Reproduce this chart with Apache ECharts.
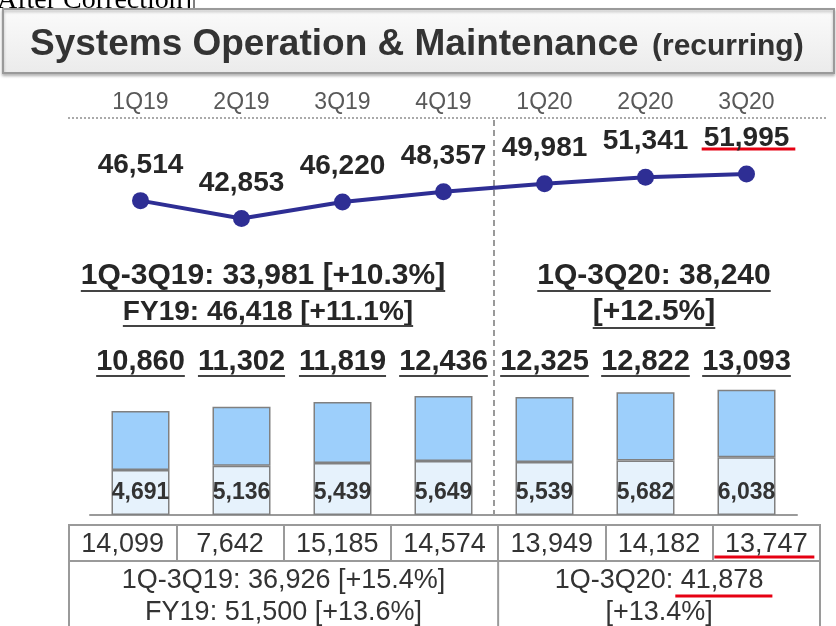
<!DOCTYPE html>
<html>
<head>
<meta charset="utf-8">
<script src="https://cdn.jsdelivr.net/npm/echarts@6/dist/echarts.min.js"></script>
<style>
  html, body { margin: 0; padding: 0; background: #fff; }
  #main { width: 836px; height: 626px; }
</style>
</head>
<body>
<div id="main"></div>
<script>
// quarters
const categories = ['1Q19', '2Q19', '3Q19', '4Q19', '1Q20', '2Q20', '3Q20'];
// line: recurring revenue per quarter
const lineValues = [46514, 42853, 46220, 48357, 49981, 51341, 51995];
// bars: total and lower segment
const barTotals = [10860, 11302, 11819, 12436, 12325, 12822, 13093];
const barLower = [4691, 5136, 5439, 5649, 5539, 5682, 6038];
// table row
const tableValues = [14099, 7642, 15185, 14574, 13949, 14182, 13747];
// summary texts
const summary19 = ['1Q-3Q19: 33,981 [+10.3%]', 'FY19: 46,418 [+11.1%]'];
const summary20 = ['1Q-3Q20: 38,240', '[+12.5%]'];
const table19 = ['1Q-3Q19: 36,926 [+15.4%]', 'FY19: 51,500 [+13.6%]'];
const table20 = ['1Q-3Q20: 41,878', '[+13.4%]'];

const FONT = '"Liberation Sans", Arial, sans-serif';
const fmt = v => v.toLocaleString('en-US');
const barUpper = barTotals.map((t, i) => t - barLower[i]);

const ctx = document.createElement('canvas').getContext('2d');
function textWidth(t, font) { ctx.font = font; return ctx.measureText(t).width; }

const chart = echarts.init(document.getElementById('main'));

// grids: line, bars, table row
const G = {
    line: {left: 90, width: 707, top: 135, height: 146},
    bar: {left: 90, width: 707, top: 381, height: 134},
    table: {left: 69, width: 751, top: 525, height: 36}
};

chart.setOption({
    animation: false,
    backgroundColor: '#fff',
    grid: [
        G.line,
        G.bar,
        Object.assign({show: true, borderColor: '#9a9a9a', borderWidth: 2, backgroundColor: 'transparent'}, G.table)
    ],
    xAxis: [
        {
            type: 'category', gridIndex: 0, position: 'top', data: categories,
            axisLine: {show: false}, axisTick: {show: false},
            axisLabel: {color: '#595959', fontFamily: FONT, fontSize: 23, margin: 21}
        },
        {
            type: 'category', gridIndex: 1, data: categories,
            axisLine: {lineStyle: {color: '#9a9a9a', width: 2}}, axisTick: {show: false},
            axisLabel: {show: false}
        },
        {
            type: 'category', gridIndex: 1, position: 'top', data: barTotals.map(fmt),
            axisLine: {show: false}, axisTick: {show: false},
            axisLabel: {color: '#262626', fontFamily: FONT, fontSize: 29, fontWeight: 'bold', margin: 5, interval: 0}
        },
        {
            type: 'category', gridIndex: 2, data: tableValues.map(fmt),
            axisLine: {show: false}, axisTick: {show: false},
            axisLabel: {inside: true, color: '#333', fontFamily: FONT, fontSize: 27, margin: 3, interval: 0},
            splitLine: {show: true, interval: 0, lineStyle: {color: '#9a9a9a', width: 2}}
        }
    ],
    yAxis: [
        {type: 'value', gridIndex: 0, min: 30000, max: 60000, show: false},
        {type: 'value', gridIndex: 1, min: 0, max: 14000, show: false},
        {type: 'value', gridIndex: 2, show: false}
    ],
    series: [
        {
            type: 'line', xAxisIndex: 0, yAxisIndex: 0, data: lineValues,
            symbol: 'circle', symbolSize: 17,
            lineStyle: {color: '#2e2e94', width: 4},
            itemStyle: {color: '#2e2e94'},
            label: {
                show: true, position: 'top', distance: 13,
                formatter: p => fmt(p.value),
                color: '#262626', fontFamily: FONT, fontSize: 28, fontWeight: 'bold'
            }
        },
        {
            type: 'bar', xAxisIndex: 1, yAxisIndex: 1, stack: 'total', data: barLower, barWidth: 58,
            itemStyle: {color: '#e6f2fc', borderColor: '#808080', borderWidth: 1.5},
            label: {
                show: true, position: 'insideBottom', distance: 11,
                formatter: p => fmt(p.value),
                color: '#333', fontFamily: FONT, fontSize: 23, fontWeight: 'bold'
            }
        },
        {
            type: 'bar', xAxisIndex: 1, yAxisIndex: 1, stack: 'total', data: barUpper, barWidth: 58,
            itemStyle: {color: '#9dcffb', borderColor: '#808080', borderWidth: 1.5}
        }
    ]
});

// annotations: title, summaries, underlines, table lower row
const gfx = [];
function text(x, y, t, font, color, align) {
    gfx.push({type: 'text', x: x, y: y, style: {text: t, font: font, fill: color, align: align || 'center', verticalAlign: 'middle'}});
}
function hline(x1, x2, y, color, w) {
    gfx.push({type: 'line', shape: {x1: x1, y1: y, x2: x2, y2: y}, style: {stroke: color, lineWidth: w}});
}
function underlined(cx, y, t, font, color, uy) {
    text(cx, y, t, font, color);
    const w = textWidth(t, font);
    hline(cx - w / 2, cx + w / 2, uy, '#444', 2);
}

// top cropped caption
gfx.push({type: 'text', x: -3, y: 15, style: {text: 'After Correction]', font: '28px "Liberation Serif", serif', fill: '#000', align: 'left', verticalAlign: 'bottom'}});
gfx.push({type: 'line', shape: {x1: 194, y1: 0, x2: 194, y2: 9}, style: {stroke: '#000', lineWidth: 1}});

// title box
gfx.push({
    type: 'rect', shape: {x: 3, y: 9, width: 831, height: 64},
    style: {
        fill: new echarts.graphic.LinearGradient(0, 0, 0, 1, [{offset: 0, color: '#fbfbfb'}, {offset: 1, color: '#ebebeb'}]),
        stroke: '#9a9a9a', lineWidth: 2, shadowBlur: 3, shadowColor: 'rgba(0,0,0,0.25)', shadowOffsetY: 2
    }
});
text(30, 45, 'Systems Operation & Maintenance', 'bold 37px ' + FONT, '#333', 'left');
text(652, 47, '(recurring)', 'bold 30px ' + FONT, '#333', 'left');

// dotted line under quarter labels
gfx.push({type: 'line', shape: {x1: 68, y1: 118, x2: 826, y2: 118}, style: {stroke: '#aaa', lineWidth: 2, lineDash: [2, 2]}});

// dashed separator between FY19 and FY20
const step = G.line.width / categories.length;
const sepX = G.line.left + step * 4;
gfx.push({type: 'line', shape: {x1: sepX, y1: 120, x2: sepX, y2: 515}, style: {stroke: '#999', lineWidth: 2, lineDash: [6, 4]}});

// summaries
const bold30 = 'bold 30px ' + FONT;
const bold28 = 'bold 28px ' + FONT;
underlined(263, 276, summary19[0], bold30, '#262626', 291);
underlined(268, 312, summary19[1], bold28, '#262626', 326);
underlined(654, 276, summary20[0], bold30, '#262626', 291);
underlined(654, 312, summary20[1], bold30, '#262626', 328);

// underline bar totals
const totalFont = 'bold 29px ' + FONT;
barTotals.forEach((v, i) => {
    const cx = G.bar.left + step * (i + 0.5);
    const w = textWidth(fmt(v), totalFont);
    hline(cx - w / 2, cx + w / 2, 376, '#444', 2);
});

// table lower row
const tLeft = G.table.left, tRight = G.table.left + G.table.width, tTop = G.table.top + G.table.height;
const cell = G.table.width / tableValues.length;
const tDiv = tLeft + cell * 4;
gfx.push({type: 'rect', shape: {x: tLeft, y: tTop, width: G.table.width, height: 120}, style: {fill: 'none', stroke: '#9a9a9a', lineWidth: 2}});
gfx.push({type: 'line', shape: {x1: tDiv, y1: tTop, x2: tDiv, y2: 700}, style: {stroke: '#9a9a9a', lineWidth: 2}});
const reg27 = '27px ' + FONT;
text((tLeft + tDiv) / 2, 581, table19[0], reg27, '#333');
text((tLeft + tDiv) / 2, 613, table19[1], reg27, '#333');
text((tDiv + tRight) / 2, 581, table20[0], reg27, '#333');
text((tDiv + tRight) / 2, 613, table20[1], reg27, '#333');

// red highlights
const red = '#e60012';
const last = chart.convertToPixel({xAxisIndex: 0, yAxisIndex: 0}, [categories.length - 1, lineValues[lineValues.length - 1]]);
const wLast = textWidth(fmt(lineValues[lineValues.length - 1]), bold28);
hline(last[0] - wLast / 2 - 2, last[0] + wLast / 2 + 6, last[1] - 25, red, 3);
const lastCell = tLeft + cell * 6.5;
hline(lastCell - 52, lastCell + 48, 557, red, 3);
const t20w = textWidth(table20[0], reg27);
const t20x = (tDiv + tRight) / 2 - t20w / 2;
const pre = textWidth(table20[0].split(' ')[0], reg27);
hline(t20x + pre + 2, t20x + t20w + 9, 596, red, 3);

chart.setOption({graphic: gfx});
</script>
</body>
</html>
